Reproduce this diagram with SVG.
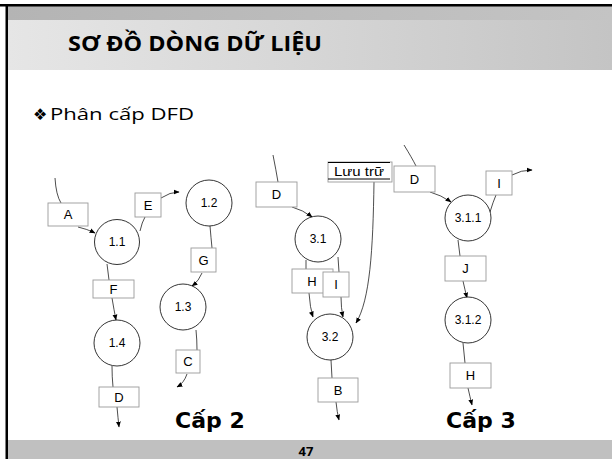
<svg xmlns="http://www.w3.org/2000/svg" width="612" height="459" viewBox="0 0 612 459">
<defs>
<linearGradient id="band" x1="0" y1="0" x2="1" y2="0">
<stop offset="0" stop-color="#e6e6e6"/>
<stop offset="0.5" stop-color="#d6d6d6"/>
<stop offset="1" stop-color="#c4c4c4"/>
</linearGradient>
<linearGradient id="strip" x1="0" y1="0" x2="1" y2="0">
<stop offset="0" stop-color="#b4b4b4"/>
<stop offset="1" stop-color="#c4c4c4"/>
</linearGradient>
<marker id="ah" viewBox="0 0 10 10" refX="9" refY="5" markerWidth="6" markerHeight="6" markerUnits="userSpaceOnUse" orient="auto">
<path d="M0,1 L10,5 L0,9 z" fill="#000"/>
</marker>
</defs>
<style>
.box{fill:#fff;stroke:#9a9a9a;stroke-width:0.9}
.proc{fill:#fff;stroke:#000;stroke-width:0.8}
.lbl{font-family:"Liberation Sans",Arial,sans-serif;font-size:13px;fill:#000;text-anchor:middle}
.plbl{font-family:"Liberation Sans",Arial,sans-serif;font-size:12px;fill:#000;text-anchor:middle}
.flow{fill:none;stroke:#000;stroke-width:0.7}
.arr{marker-end:url(#ah)}
.cap{font-family:"DejaVu Sans",Verdana,sans-serif;font-weight:bold;font-size:22px;fill:#000}
</style>
<rect x="0" y="0" width="612" height="459" fill="#fff"/>
<rect x="7" y="6" width="605" height="14" fill="url(#strip)"/>
<rect x="7" y="20" width="605" height="50" fill="url(#band)"/>
<rect x="0" y="4" width="612" height="2.5" fill="#000"/>
<rect x="5.5" y="4" width="2.5" height="455" fill="#000"/>
<rect x="8" y="440" width="604" height="19" fill="#c0c0c0"/>
<text x="68" y="51" font-family="'Open Sans','Noto Sans',sans-serif" font-weight="bold" font-size="21" textLength="254" lengthAdjust="spacingAndGlyphs">SƠ ĐỒ DÒNG DỮ LIỆU</text>
<text x="33" y="120" font-family="'DejaVu Sans',sans-serif" font-size="16">❖</text>
<text x="50" y="120" font-family="'Open Sans','Noto Sans',sans-serif" font-size="17" textLength="144" lengthAdjust="spacingAndGlyphs">Phân cấp DFD</text>
<text x="306" y="456" font-family="'Open Sans','Noto Sans',sans-serif" font-weight="bold" font-size="13" text-anchor="middle">47</text>

<g id="connectors">
<path class="flow" d="M55,178 Q56,195 61,203"/>
<path class="flow arr" d="M78,227 Q87,229 95,233"/>
<path class="flow" d="M140,231 Q142,222 145,217"/>
<path class="flow arr" d="M161,198 Q170,192 179,192"/>
<path class="flow" d="M210,226 Q211,238 212,248"/>
<path class="flow arr" d="M202,273 Q199,281 192,286"/>
<path class="flow" d="M196,330 Q197,340 197,350"/>
<path class="flow arr" d="M187,374 Q184,383 177,387"/>
<path class="flow" d="M107,264 Q108,272 109,280"/>
<path class="flow arr" d="M112,298 Q114,310 116,320"/>
<path class="flow" d="M112,366 Q112,377 113,387"/>
<path class="flow arr" d="M117,407 Q118,418 119,427"/>

<path class="flow" d="M273,155 Q276,170 278,182"/>
<path class="flow arr" d="M292,207 Q303,210 312,217"/>
<path class="flow" d="M306,260 L306,269"/>
<path class="flow" d="M338,257 L339,272"/>
<path class="flow arr" d="M309,293 Q310,308 313,317"/>
<path class="flow arr" d="M341,297 Q341,308 343,317"/>
<path class="flow" d="M331,360 L332,378"/>
<path class="flow arr" d="M336,402 Q337,412 339,420"/>
<path class="flow arr" d="M374,182 C373,250 370,300 356,323"/>

<path class="flow" d="M404,145 Q412,158 416,166"/>
<path class="flow arr" d="M430,192 Q441,195 451,202"/>
<path class="flow" d="M490,212 Q493,202 496,195"/>
<path class="flow arr" d="M512,175 Q521,170 532,170"/>
<path class="flow" d="M458,240 Q459,248 460,256"/>
<path class="flow arr" d="M463,281 Q465,290 467,298"/>
<path class="flow" d="M463,343 Q464,353 465,363"/>
<path class="flow arr" d="M468,388 Q470,397 472,405"/>
</g>

<g id="p11"><circle class="proc" cx="117" cy="242" r="22.5"/><text class="plbl" x="117" y="246">1.1</text></g>
<g id="p12"><circle class="proc" cx="209" cy="203" r="23"/><text class="plbl" x="209" y="207">1.2</text></g>
<g id="p13"><circle class="proc" cx="183" cy="307" r="23"/><text class="plbl" x="183" y="311">1.3</text></g>
<g id="p14"><circle class="proc" cx="117" cy="343" r="23"/><text class="plbl" x="117" y="347">1.4</text></g>
<g id="fA"><rect class="box" x="48" y="203" width="40" height="23"/><text class="lbl" x="68" y="219">A</text></g>
<g id="fE"><rect class="box" x="135" y="193" width="26" height="24"/><text class="lbl" x="148" y="210">E</text></g>
<g id="fG"><rect class="box" x="191" y="248" width="25" height="24"/><text class="lbl" x="203.5" y="265">G</text></g>
<g id="fC"><rect class="box" x="176" y="350" width="24" height="23"/><text class="lbl" x="188" y="366">C</text></g>
<g id="fF"><rect class="box" x="93" y="280" width="41" height="18"/><text class="lbl" x="113.5" y="294">F</text></g>
<g id="fD2"><rect class="box" x="99" y="387" width="40" height="20"/><text class="lbl" x="119" y="402">D</text></g>
<text class="cap" x="175" y="428">Cấp 2</text>

<g id="store"><rect x="328" y="162" width="64" height="20" fill="#fff" stroke="#9a9a9a" stroke-width="0.9"/><line x1="328" y1="162.5" x2="390" y2="162.5" stroke="#000" stroke-width="1"/><line x1="328" y1="179" x2="390" y2="179" stroke="#000" stroke-width="1"/><text x="334" y="176" font-family="'Liberation Sans',Arial,sans-serif" font-size="12.5" textLength="50" lengthAdjust="spacingAndGlyphs">Lưu trữ</text></g>
<g id="fD3"><rect class="box" x="256" y="182" width="41" height="25"/><text class="lbl" x="276.5" y="199">D</text></g>
<g id="p31"><circle class="proc" cx="318" cy="239" r="23"/><text class="plbl" x="318" y="243">3.1</text></g>
<g id="fH3"><rect class="box" x="292" y="269" width="41" height="24"/><text class="lbl" x="312" y="286">H</text></g>
<g id="fI3"><rect class="box" x="323" y="272" width="26" height="25"/><text class="lbl" x="336" y="289">I</text></g>
<g id="p32"><circle class="proc" cx="330" cy="337" r="23"/><text class="plbl" x="330" y="341">3.2</text></g>
<g id="fB"><rect class="box" x="318" y="378" width="40" height="24"/><text class="lbl" x="338" y="395">B</text></g>

<g id="fD4"><rect class="box" x="394" y="166" width="41" height="26"/><text class="lbl" x="414.5" y="184">D</text></g>
<g id="p311"><circle class="proc" cx="468" cy="218" r="23"/><text class="plbl" x="468" y="222">3.1.1</text></g>
<g id="fI4"><rect class="box" x="486" y="171" width="26" height="24"/><text class="lbl" x="499" y="188">I</text></g>
<g id="fJ"><rect class="box" x="445" y="256" width="41" height="25"/><text class="lbl" x="465.5" y="273">J</text></g>
<g id="p312"><circle class="proc" cx="468" cy="320" r="23"/><text class="plbl" x="468" y="324">3.1.2</text></g>
<g id="fH4"><rect class="box" x="450" y="363" width="41" height="25"/><text class="lbl" x="470.5" y="380">H</text></g>
<text class="cap" x="446" y="428">Cấp 3</text>
</svg>
